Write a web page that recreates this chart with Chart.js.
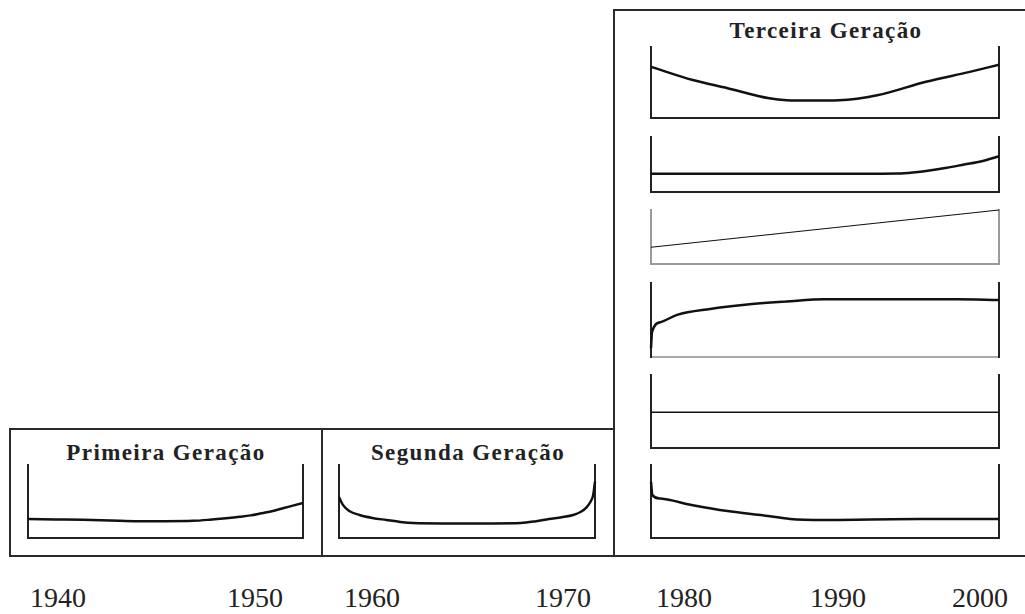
<!DOCTYPE html>
<html lang="pt">
<head>
<meta charset="utf-8">
<title>Gerações</title>
<script src="https://cdn.jsdelivr.net/npm/chart.js@4.4.1/dist/chart.umd.min.js"></script>
<style>
    html, body { margin: 0; padding: 0; background: #fff; }
    #stage { position: relative; width: 1025px; height: 614px; overflow: hidden; }
    .box { position: absolute; border: 2px solid #2a2a2a; box-sizing: border-box; }
    .title { position: absolute; font-family: "Liberation Serif", "DejaVu Serif", serif; font-weight: bold;
             font-size: 23px; letter-spacing: 1.4px; color: #222; text-align: center; white-space: nowrap; }
    .year { position: absolute; font-family: "Liberation Serif", "DejaVu Serif", serif; font-size: 28px;
            color: #222; white-space: nowrap; transform: translateX(-50%); }
    canvas { position: absolute; }
</style>
</head>
<body>
<div id="stage"></div>
<script>
// --- data (x = % of panel width, y = % of panel height) ---
const generations = ['Primeira Geração', 'Segunda Geração', 'Terceira Geração'];
const years = ['1940', '1950', '1960', '1970', '1980', '1990', '2000'];

const primeiraX = [0, 10, 20, 30, 40, 50, 60, 66, 72, 77, 81, 85, 89, 93, 97, 100];
const primeiraY = [26, 25.5, 25, 24, 23, 23, 23.5, 25, 27, 29, 31, 34, 37, 41, 45, 48];

const segundaX = [0, 1.6, 4, 8, 13, 18.5, 24, 29, 40, 50, 60, 71, 77, 82, 87, 91.5, 94.5, 96.7, 98.3, 99.3, 100];
const segundaY = [56, 45, 37, 31.5, 27.5, 24.7, 22, 20.5, 20, 20, 20, 20.5, 23, 26, 28.5, 31.5, 36, 42, 50, 59, 77];

const terceiraAX = [0, 12, 22, 34, 39, 46, 54, 65, 79, 91.6, 100];
const terceiraAY = [72, 53.5, 42, 27.7, 25, 24.5, 25, 32, 51, 65, 75];

const terceiraBX = [0, 20, 40, 60, 71, 76, 80, 85, 90, 95, 100];
const terceiraBY = [33, 33, 33, 33, 33.5, 36, 39, 44, 50, 56, 65];

const terceiraCX = [0, 100];
const terceiraCY = [31, 100];

const terceiraDX = [0, 0.3, 3, 7.5, 17, 27, 39, 50, 70, 88, 100];
const terceiraDY = [12, 34, 47.5, 57, 65, 70.7, 75, 78, 78, 78, 77];

const terceiraEX = [0, 100];
const terceiraEY = [49, 49];

const terceiraFX = [0, 0.4, 2.7, 12, 22, 31.5, 40, 49.5, 77, 100];
const terceiraFY = [77, 59, 54, 45, 37, 31.5, 26, 24.7, 26, 26];

(function() {
    'use strict';

    const stage = document.getElementById('stage');
    const PAD = 4;

    // outer generation boxes
    const boxes = [
        { left: 9, top: 428, width: 314, height: 129 },
        { left: 321, top: 428, width: 294, height: 129 },
        { left: 613, top: 9, width: 430, height: 548 }
    ];
    boxes.forEach(function(b) {
        const d = document.createElement('div');
        d.className = 'box';
        d.style.left = b.left + 'px';
        d.style.top = b.top + 'px';
        d.style.width = b.width + 'px';
        d.style.height = b.height + 'px';
        stage.appendChild(d);
    });

    // titles, centred over their panels
    const titlePos = [
        { center: 166, top: 440 },
        { center: 468, top: 440 },
        { center: 826, top: 18 }
    ];
    generations.forEach(function(name, i) {
        const t = document.createElement('div');
        t.className = 'title';
        t.textContent = name;
        t.style.left = (titlePos[i].center - 150) + 'px';
        t.style.width = '300px';
        t.style.top = titlePos[i].top + 'px';
        stage.appendChild(t);
    });

    // year labels under the boxes
    const yearCenters = [58, 255, 372, 563, 684, 838, 980];
    years.forEach(function(y, i) {
        const t = document.createElement('div');
        t.className = 'year';
        t.textContent = y;
        t.style.left = yearCenters[i] + 'px';
        t.style.top = '582px';
        stage.appendChild(t);
    });

    /**
     * One small panel: left/right/bottom axis lines and one curve
     */
    function panel(rect, xs, ys, opts) {
        opts = opts || {};
        const canvas = document.createElement('canvas');
        const w = rect.right - rect.left + 2 * PAD;
        const h = rect.bottom - rect.top + 2 * PAD;
        canvas.width = w;
        canvas.height = h;
        canvas.style.left = (rect.left - PAD) + 'px';
        canvas.style.top = (rect.top - PAD) + 'px';
        canvas.style.width = w + 'px';
        canvas.style.height = h + 'px';
        stage.appendChild(canvas);

        const sideColor = opts.sideColor || '#222';
        const baseColor = opts.baseColor || sideColor;
        const axis = function(position, color) {
            return {
                type: 'linear',
                position: position,
                min: 0,
                max: 100,
                display: true,
                ticks: { display: false },
                grid: { display: false, drawTicks: false },
                border: { display: true, color: color, width: 2 }
            };
        };

        return new Chart(canvas.getContext('2d'), {
            type: 'line',
            data: {
                datasets: [{
                    data: xs.map(function(x, i) { return { x: x, y: ys[i] }; }),
                    borderColor: '#111',
                    borderWidth: opts.lineWidth || 2.5,
                    pointRadius: 0,
                    cubicInterpolationMode: 'monotone',
                    fill: false,
                    clip: 3
                }]
            },
            options: {
                responsive: false,
                animation: false,
                layout: { padding: PAD },
                scales: {
                    x: axis('bottom', baseColor),
                    y: axis('left', sideColor),
                    yr: axis('right', sideColor)
                },
                plugins: {
                    legend: { display: false },
                    tooltip: { enabled: false }
                }
            }
        });
    }

    panel({ left: 28, top: 465, right: 303, bottom: 538 }, primeiraX, primeiraY);
    panel({ left: 339, top: 465, right: 595, bottom: 538 }, segundaX, segundaY);
    panel({ left: 651, top: 47, right: 999, bottom: 118 }, terceiraAX, terceiraAY);
    panel({ left: 651, top: 137, right: 999, bottom: 192 }, terceiraBX, terceiraBY);
    panel({ left: 651, top: 210, right: 999, bottom: 264 }, terceiraCX, terceiraCY, { sideColor: '#9a9a9a', lineWidth: 1.2 });
    panel({ left: 651, top: 283, right: 999, bottom: 357 }, terceiraDX, terceiraDY, { baseColor: '#aaa' });
    panel({ left: 651, top: 375, right: 999, bottom: 448 }, terceiraEX, terceiraEY, { lineWidth: 1.5 });
    panel({ left: 651, top: 465, right: 999, bottom: 538 }, terceiraFX, terceiraFY);
})();
</script>
</body>
</html>
